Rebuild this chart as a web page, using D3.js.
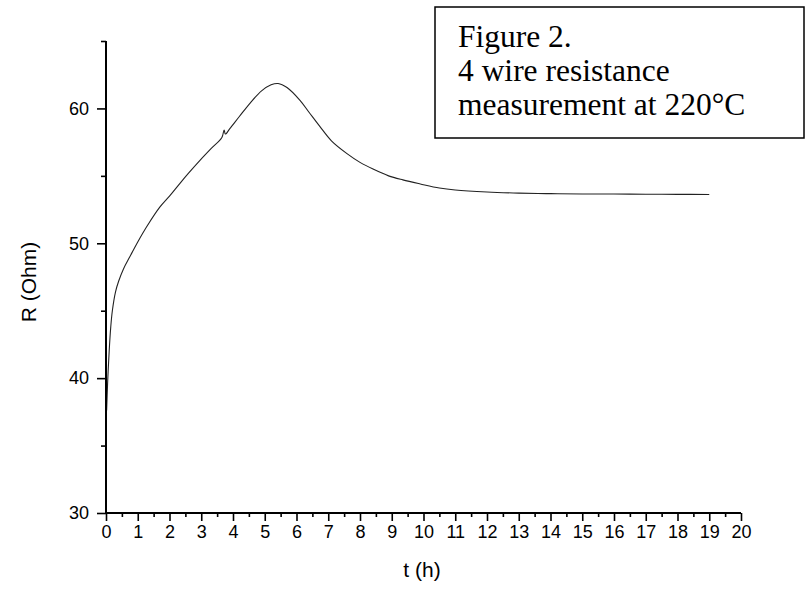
<!DOCTYPE html>
<html><head><meta charset="utf-8">
<script src="https://cdn.jsdelivr.net/npm/d3@7"></script>
<style>body{margin:0;background:#fff}svg{display:block}</style>
</head><body>
<svg id="c" width="805" height="592"></svg>
<script>
const timeH = [0.02,0.05,0.1,0.15,0.2,0.3,0.4,0.55,0.75,1.0,1.3,1.7,2.0,2.33,2.6,2.96,3.3,3.65,3.72,3.76,3.9,4.2,4.54,4.9,5.2,5.42,5.7,6.11,6.4,6.74,7.1,7.59,8.0,8.41,8.9,9.35,9.9,10.5,11.0,12.0,13.0,14.0,15.0,16.0,17.0,18.0,19.0];
const resistance = [37.6,39.6,42.0,43.8,45.0,46.4,47.2,48.1,49.0,50.1,51.3,52.7,53.5,54.45,55.2,56.15,57.0,57.85,58.4,58.1,58.5,59.4,60.4,61.3,61.75,61.85,61.55,60.6,59.7,58.65,57.6,56.65,56.0,55.5,55.0,54.7,54.4,54.1,53.95,53.8,53.72,53.68,53.66,53.65,53.64,53.63,53.62];
const xMajorTicks = d3.range(0, 21, 1);
const xMinorTicks = d3.range(0.5, 20, 1);
const yMajorTicks = [30, 40, 50, 60];
const yMinorTicks = [35, 45, 55, 65];
const xLabel = "t (h)";
const yLabel = "R (Ohm)";
const titleLines = ["Figure 2.", "4 wire resistance", "measurement at 220°C"];

const svg = d3.select("#c");
const x = d3.scaleLinear().domain([0, 20]).range([106, 741]);
const y = d3.scaleLinear().domain([30, 65]).range([513, 41]);
const font = "Liberation Sans, Arial, sans-serif";

// curve
const line = d3.line().x((d,i)=>x(timeH[i])).y(d=>y(d)).curve(d3.curveCatmullRom.alpha(0.5));
svg.append("path").datum(resistance).attr("d", line)
  .attr("fill","none").attr("stroke","#222").attr("stroke-width",1.1);

// x axis
const gx = svg.append("g").attr("transform",`translate(0,${y(30)})`);
gx.call(d3.axisBottom(x).tickValues(xMajorTicks).tickSize(8).tickPadding(4).tickFormat(d3.format("d")));
const gxm = svg.append("g").attr("transform",`translate(0,${y(30)})`);
gxm.call(d3.axisBottom(x).tickValues(xMinorTicks).tickSize(4).tickFormat(""));
gxm.select(".domain").remove();

// y axis
const gy = svg.append("g").attr("transform",`translate(${x(0)},0)`);
gy.call(d3.axisLeft(y).tickValues(yMajorTicks).tickSize(9).tickPadding(8).tickFormat(d3.format("d")));
const gym = svg.append("g").attr("transform",`translate(${x(0)},0)`);
gym.call(d3.axisLeft(y).tickValues(yMinorTicks).tickSize(5).tickFormat(""));
gym.select(".domain").remove();

svg.selectAll(".domain").attr("stroke","#000").attr("stroke-width",2);
svg.selectAll(".tick line").attr("stroke","#000").attr("stroke-width",1.6);
svg.selectAll(".tick text").attr("font-family",font).attr("font-size",18).attr("fill","#000");
gx.selectAll(".domain").attr("d", `M${x(0)},0H${x(20)}`);
gy.selectAll(".domain").attr("d", `M0,${y(65)}V${y(30)}`);

// axis titles
svg.append("text").attr("x",422).attr("y",577).attr("text-anchor","middle")
  .attr("font-family",font).attr("font-size",21).text(xLabel);
svg.append("text").attr("transform","translate(36,282) rotate(-90)").attr("text-anchor","middle")
  .attr("font-family",font).attr("font-size",21).text(yLabel);

// title box
svg.append("rect").attr("x",435).attr("y",7).attr("width",369).attr("height",131)
  .attr("fill","#fff").attr("stroke","#000").attr("stroke-width",1.5);
svg.append("g").selectAll("text").data(titleLines).join("text")
  .attr("x",458).attr("y",(d,i)=>47+i*34)
  .attr("font-family","Liberation Serif, Times New Roman, serif").attr("font-size",31.5)
  .text(d=>d);
</script>
</body></html>
